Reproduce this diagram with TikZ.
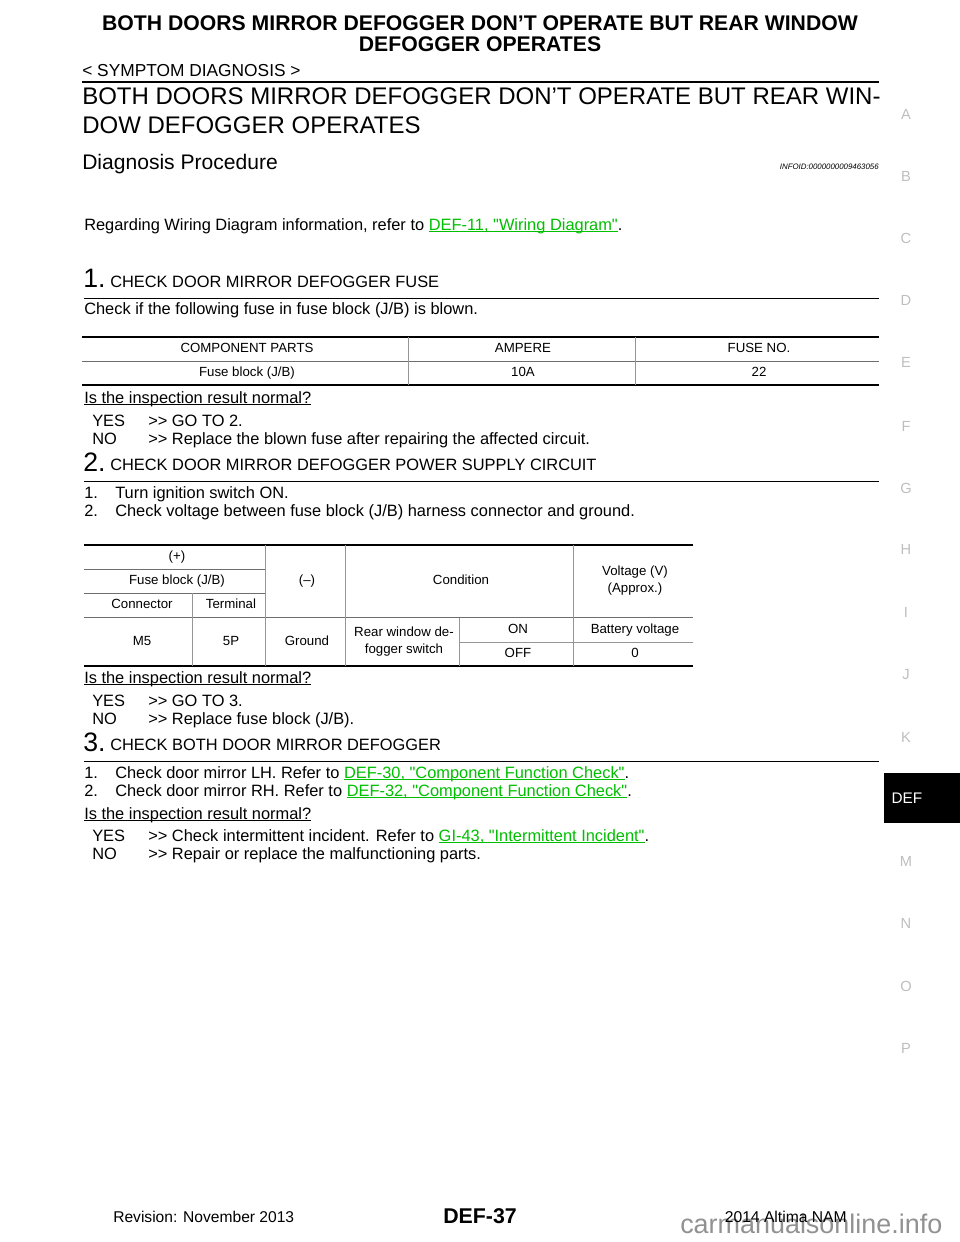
\documentclass[tikz,border=0pt]{standalone}
\usepackage{fontspec}
\setmainfont{Liberation Sans}[Ligatures=TeXOff]
\definecolor{linkgreen}{RGB}{0,190,0}
\definecolor{tabgrey}{RGB}{150,150,150}
\definecolor{rowgrey}{RGB}{110,110,110}
\definecolor{sidegrey}{RGB}{190,190,190}
\definecolor{markgrey}{RGB}{145,145,145}
\tikzset{
  txt/.style={anchor=base west,inner sep=0pt,font=\fontsize{12.3}{14}\selectfont},
  cell/.style={anchor=base,inner sep=0pt,align=center,font=\fontsize{9.95}{12.4}\selectfont},
  steptxt/.style={anchor=base west,inner sep=0pt,font=\fontsize{12.3}{14}\selectfont},
  stepnum/.style={anchor=base west,inner sep=0pt,font=\fontsize{20}{22}\selectfont},
  sidetab/.style={anchor=base,inner sep=0pt,text=sidegrey,font=\fontsize{11}{13}\selectfont},
  heavy/.style={line width=1.5pt},
  rulethin/.style={line width=0.75pt},
  grid/.style={line width=0.5pt,draw=tabgrey},
  rowline/.style={line width=0.6pt,draw=rowgrey},
}
\newcommand{\ulbase}[1]{\setbox0\hbox{#1}\rlap{\rule[-1.6pt]{\wd0}{0.6pt}}\box0 }
\newcommand{\glink}[1]{\textcolor{linkgreen}{\ulbase{#1}}}
\newcommand{\lnum}[1]{\makebox[23.25pt][l]{#1}}
\begin{document}
\begin{tikzpicture}[x=0.75pt,y=0.75pt,yscale=-1,xscale=1]
\useasboundingbox (0,0) rectangle (960,1242);

% page heading
\node (title1) [anchor=base,inner sep=0pt,font=\fontsize{15.9}{17}\selectfont\bfseries] at (480,30) {BOTH DOORS MIRROR DEFOGGER DON’T OPERATE BUT REAR WINDOW};
\node (title2) [anchor=base,inner sep=0pt,font=\fontsize{15.9}{17}\selectfont\bfseries] at (480,51) {DEFOGGER OPERATES};
\node (symptom) [anchor=base west,inner sep=0pt,font=\fontsize{13}{15}\selectfont] at (82,76) {< SYMPTOM DIAGNOSIS >};
\draw [heavy] (82,82) -- (879,82);
\node (head1) [anchor=base west,inner sep=0pt,font=\fontsize{18}{20}\selectfont] at (82,104) {BOTH DOORS MIRROR DEFOGGER DON’T OPERATE BUT REAR WIN-};
\node (head2) [anchor=base west,inner sep=0pt,font=\fontsize{18}{20}\selectfont] at (82,133) {DOW DEFOGGER OPERATES};
\node (proc) [anchor=base west,inner sep=0pt,font=\fontsize{15.8}{18}\selectfont] at (82,169) {Diagnosis Procedure};
\node (infoid) [anchor=base east,inner sep=0pt,font=\fontsize{5.9}{7}\selectfont\itshape] at (879,169) {INFOID:0000000009463056};
\node (regard) [txt] at (84,230) {Regarding Wiring Diagram information, refer to \glink{DEF-11, "Wiring Diagram"}.};

% step 1
\node (num1) [stepnum] at (83,287) {1.};
\node (step1) [steptxt] at (110,287) {CHECK DOOR MIRROR DEFOGGER FUSE};
\draw [rulethin] (84,298) -- (879,298);
\node (chk1) [txt] at (84,314) {Check if the following fuse in fuse block (J/B) is blown.};
\draw [heavy] (82,337) -- (879,337);
\draw [rowline] (82,361) -- (879,361);
\draw [heavy] (82,385) -- (879,385);
\draw [grid] (408,337) -- (408,385);
\draw [grid] (635,337) -- (635,385);
\node (c11) [cell] at (247,352) {COMPONENT PARTS};
\node (c12) [cell] at (523,352) {AMPERE};
\node (c13) [cell] at (759,352) {FUSE NO.};
\node (c21) [cell] at (247,376) {Fuse block (J/B)};
\node (c22) [cell] at (523,376) {10A};
\node (c23) [cell] at (759,376) {22};
\node (res1) [txt] at (84,403) {\ulbase{Is the inspection result normal?}};
\node (yes1) [txt] at (92,426) {YES};
\node (yes1b) [txt] at (148,426) {>> GO TO 2.};
\node (no1) [txt] at (92,444) {NO};
\node (no1b) [txt] at (148,444) {>> Replace the blown fuse after repairing the affected circuit.};

% step 2
\node (num2) [stepnum] at (83,471) {2.};
\node (step2) [steptxt] at (110,470) {CHECK DOOR MIRROR DEFOGGER POWER SUPPLY CIRCUIT};
\draw [rulethin] (84,481) -- (879,481);
\node (lst21) [txt] at (84,498) {\lnum{1.}Turn ignition switch ON.};
\node (lst22) [txt] at (84,516) {\lnum{2.}Check voltage between fuse block (J/B) harness connector and ground.};
\draw [heavy] (84,545) -- (693,545);
\draw [rowline] (84,569) -- (265,569);
\draw [rowline] (84,593) -- (265,593);
\draw [rowline] (84,617.5) -- (693,617.5);
\draw [grid] (459,642) -- (693,642);
\draw [heavy] (84,666) -- (693,666);
\draw [grid] (192,593) -- (192,666);
\draw [grid] (265,545) -- (265,666);
\draw [grid] (345,545) -- (345,666);
\draw [grid] (459,617.5) -- (459,666);
\draw [grid] (573,545) -- (573,666);
\node (d11) [cell] at (177,560) {(+)};
\node (d21) [cell] at (177,584) {Fuse block (J/B)};
\node (d31) [cell] at (142,608) {Connector};
\node (d32) [cell] at (231,608) {Terminal};
\node (d4) [cell] at (307,584) {(–)};
\node (d5) [cell] at (461,584) {Condition};
\node (d6) [cell] at (635,592) {Voltage (V)\\(Approx.)};
\node (e1) [cell] at (142,645) {M5};
\node (e2) [cell] at (231,645) {5P};
\node (e3) [cell] at (307,645) {Ground};
\node (e4) [cell] at (404,653) {Rear window de-\\fogger switch};
\node (e5) [cell] at (518,633) {ON};
\node (e6) [cell] at (635,633) {Battery voltage};
\node (e7) [cell] at (518,657) {OFF};
\node (e8) [cell] at (635,657) {0};
\node (res2) [txt] at (84,683) {\ulbase{Is the inspection result normal?}};
\node (yes2) [txt] at (92,706) {YES};
\node (yes2b) [txt] at (148,706) {>> GO TO 3.};
\node (no2) [txt] at (92,724) {NO};
\node (no2b) [txt] at (148,724) {>> Replace fuse block (J/B).};

% step 3
\node (num3) [stepnum] at (83,751) {3.};
\node (step3) [steptxt] at (110,750) {CHECK BOTH DOOR MIRROR DEFOGGER};
\draw [rulethin] (84,761) -- (879,761);
\node (lst31) [txt] at (84,778) {\lnum{1.}Check door mirror LH. Refer to \glink{DEF-30, "Component Function Check"}.};
\node (lst32) [txt] at (84,796) {\lnum{2.}Check door mirror RH. Refer to \glink{DEF-32, "Component Function Check"}.};
\node (res3) [txt] at (84,819) {\ulbase{Is the inspection result normal?}};
\node (yes3) [txt] at (92,841) {YES};
\node (yes3b) [txt] at (148,841) {>> Check intermittent incident. Refer to \glink{GI-43, "Intermittent Incident"}.};
\node (no3) [txt] at (92,859) {NO};
\node (no3b) [txt] at (148,859) {>> Repair or replace the malfunctioning parts.};

% side index
\foreach \lab/\ypos in {A/119,B/181,C/243,D/305,E/367,F/431,G/493,H/554,I/617,J/679,K/742,M/866,N/928,O/991,P/1053}
  \node (side\lab) [sidetab] at (906,\ypos) {\lab};
\fill (884,773) rectangle (960,823);
\node (sideDEF) [anchor=base,inner sep=0pt,text=white,font=\fontsize{11.5}{13}\selectfont] at (907,803) {DEF};

% footer
\node (water) [anchor=base west,inner sep=0pt,text=markgrey,font=\fontsize{20.2}{22}\selectfont] at (680,1233) {carmanualsonline.info};
\node (rev) [anchor=base west,inner sep=0pt,font=\fontsize{11.7}{13}\selectfont] at (113,1222) {Revision: November 2013};
\node (page) [anchor=base,inner sep=0pt,font=\fontsize{16}{18}\selectfont\bfseries] at (480,1223) {DEF-37};
\node (model) [anchor=base east,inner sep=0pt,font=\fontsize{11.75}{13}\selectfont] at (847,1222) {2014 Altima NAM};
\end{tikzpicture}
\end{document}
